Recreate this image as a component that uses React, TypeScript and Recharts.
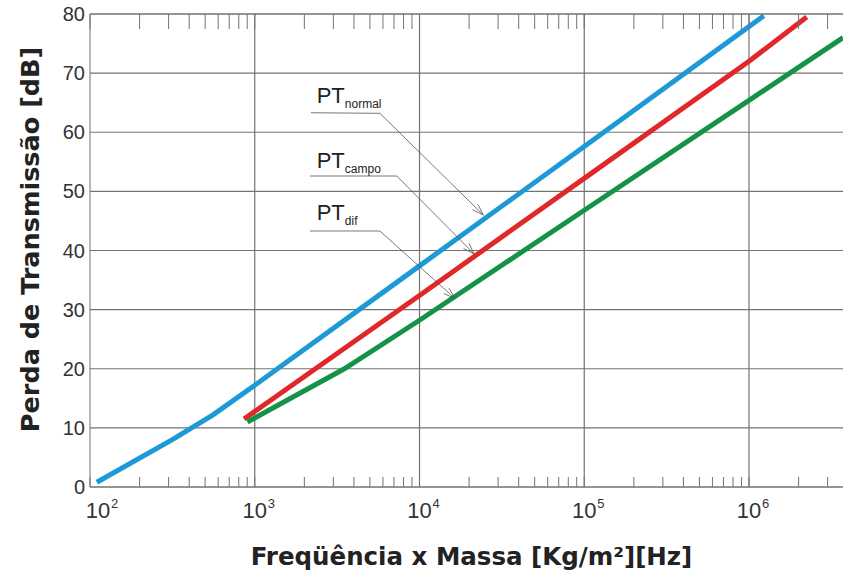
import React from "react";
import {
  LineChart,
  Line,
  XAxis,
  YAxis,
  CartesianGrid,
  ReferenceLine,
  ReferenceDot,
} from "recharts";

// frequency x mass (log axis) and transmission loss [dB] for each curve
const normalFreq = [110, 316, 558, 1000, 10000, 100000, 1230000];
const normalDb = [0.8, 8.0, 12.2, 17.2, 37.4, 57.6, 79.7];

const campoFreq = [861, 10000, 100000, 1000000, 2240000];
const campoDb = [11.5, 32.4, 52.2, 72.0, 79.5];

const difFreq = [903, 3500, 10000, 100000, 1000000, 3720000];
const difDb = [11.0, 20.0, 28.2, 46.8, 65.4, 76.0];

const decades = [100, 1000, 10000, 100000, 1000000];
const decadeExp = ["2", "3", "4", "5", "6"];
const yTicks = [0, 10, 20, 30, 40, 50, 60, 70, 80];
const xMin = 100;
const xMax = 3720000;

// annotation labels: text anchor + leader line (start, corner, arrow tip)
const noteNames = ["normal", "campo", "dif"];
const noteTextFreq = [2377, 2377, 2377];
const noteTextDb = [64.9, 53.9, 45.2];
const noteLineFreq = [
  [2190, 5750, 24400],
  [2165, 7280, 21500],
  [2165, 5750, 16400],
];
const noteLineDb = [
  [63.3, 63.2, 46.0],
  [52.6, 52.6, 39.4],
  [43.3, 43.3, 31.9],
];

const minorTicks = decades
  .flatMap((d) => [1, 2, 3, 4, 5, 6, 7, 8, 9].map((k) => k * d))
  .filter((v) => v <= xMax);

const toRows = (f: number[], db: number[]) => f.map((x, i) => ({ f: x, db: db[i] }));

const BLUE = "#1d9ad6";
const RED = "#e0282b";
const GREEN = "#15924a";
const GRID = "#737373";
const TICK_FONT = "Liberation Sans, Arial, sans-serif";
const TITLE_FONT = "DejaVu Sans, sans-serif";

const XTick = ({ x, y, payload }: any) => {
  const i = decades.indexOf(payload.value);
  if (i < 0) return <g />;
  const cx = x + (i === 0 ? 8 : 0);
  return (
    <g fill="#333" fontFamily={TICK_FONT}>
      <text x={cx} y={y + 31} textAnchor="middle" fontSize={22}>
        10
      </text>
      <text x={cx + 13} y={y + 21} fontSize={13}>
        {decadeExp[i]}
      </text>
    </g>
  );
};

const YTitle = ({ viewBox }: any) => {
  const cx = viewBox.x + 39;
  const cy = viewBox.y + viewBox.height / 2 - 11;
  return (
    <text
      x={cx}
      y={cy}
      transform={`rotate(-90, ${cx}, ${cy})`}
      textAnchor="middle"
      fontFamily={TITLE_FONT}
      fontWeight="bold"
      fontSize={25.5}
      fill="#222"
    >
      Perda de Transmissão [dB]
    </text>
  );
};

const XTitle = ({ viewBox }: any) => (
  <text
    x={viewBox.x + viewBox.width / 2 + 5}
    y={viewBox.y + 78}
    textAnchor="middle"
    fontFamily={TITLE_FONT}
    fontWeight="bold"
    fontSize={24.5}
    fill="#222"
  >
    Freqüência x Massa [Kg/m²][Hz]
  </text>
);

const ArrowLine = ({ x1, y1, x2, y2 }: any) => {
  const a = Math.atan2(y2 - y1, x2 - x1);
  const len = 12;
  const s = 0.32;
  const ax = x2 - len * Math.cos(a - s);
  const ay = y2 - len * Math.sin(a - s);
  const bx = x2 - len * Math.cos(a + s);
  const by = y2 - len * Math.sin(a + s);
  return (
    <g stroke="#555" strokeWidth={0.8} fill="none">
      <line x1={x1} y1={y1} x2={x2} y2={y2} />
      <polyline points={`${ax},${ay} ${x2},${y2} ${bx},${by}`} />
    </g>
  );
};

const PlainLine = ({ x1, y1, x2, y2 }: any) => (
  <line x1={x1} y1={y1} x2={x2} y2={y2} stroke="#555" strokeWidth={0.8} />
);

const noteText = (name: string) => ({ cx, cy }: any) => (
  <text x={cx} y={cy} fontFamily={TICK_FONT} fill="#222">
    <tspan fontSize={22}>PT</tspan>
    <tspan fontSize={12} dy={5}>
      {name}
    </tspan>
  </text>
);

export default function App() {
  return (
    <div style={{ position: "absolute", left: 0, top: 0, background: "#fff" }}>
      <LineChart
        width={843}
        height={573}
        margin={{ top: 13, right: 0, bottom: 0, left: 0 }}
      >
        <CartesianGrid vertical={false} stroke={GRID} strokeWidth={1.2} />
        <XAxis
          dataKey="f"
          type="number"
          scale="log"
          domain={[xMin, xMax]}
          allowDataOverflow
          ticks={minorTicks}
          interval={0}
          height={86}
          tickSize={-10}
          tickMargin={10}
          stroke={GRID}
          tick={XTick}
          label={{ content: XTitle }}
        />
        <XAxis
          xAxisId="top"
          orientation="top"
          dataKey="f"
          type="number"
          scale="log"
          domain={[xMin, xMax]}
          allowDataOverflow
          ticks={minorTicks}
          interval={0}
          height={1}
          tickSize={-15}
          stroke={GRID}
          tick={() => <g />}
        />
        <YAxis
          type="number"
          domain={[0, 80]}
          ticks={yTicks}
          interval={0}
          width={90}
          tickLine={false}
          tickSize={3}
          tickMargin={2}
          stroke={GRID}
          tick={{ fontSize: 20, fill: "#333", fontFamily: TICK_FONT }}
          label={{ content: YTitle }}
        />
        {decades.slice(1).map((d) => (
          <ReferenceLine key={d} x={d} stroke={GRID} strokeWidth={1.2} />
        ))}
        <Line
          data={toRows(normalFreq, normalDb)}
          dataKey="db"
          stroke={BLUE}
          strokeWidth={5}
          dot={false}
          isAnimationActive={false}
        />
        <Line
          data={toRows(campoFreq, campoDb)}
          dataKey="db"
          stroke={RED}
          strokeWidth={5}
          dot={false}
          isAnimationActive={false}
        />
        <Line
          data={toRows(difFreq, difDb)}
          dataKey="db"
          stroke={GREEN}
          strokeWidth={5}
          dot={false}
          isAnimationActive={false}
        />
        {noteNames.map((n, i) => (
          <ReferenceLine
            key={`u-${n}`}
            segment={[
              { x: noteLineFreq[i][0], y: noteLineDb[i][0] },
              { x: noteLineFreq[i][1], y: noteLineDb[i][1] },
            ]}
            shape={PlainLine}
          />
        ))}
        {noteNames.map((n, i) => (
          <ReferenceLine
            key={`a-${n}`}
            segment={[
              { x: noteLineFreq[i][1], y: noteLineDb[i][1] },
              { x: noteLineFreq[i][2], y: noteLineDb[i][2] },
            ]}
            shape={ArrowLine}
          />
        ))}
        {noteNames.map((n, i) => (
          <ReferenceDot
            key={`t-${n}`}
            x={noteTextFreq[i]}
            y={noteTextDb[i]}
            r={1}
            shape={noteText(n)}
          />
        ))}
      </LineChart>
    </div>
  );
}
